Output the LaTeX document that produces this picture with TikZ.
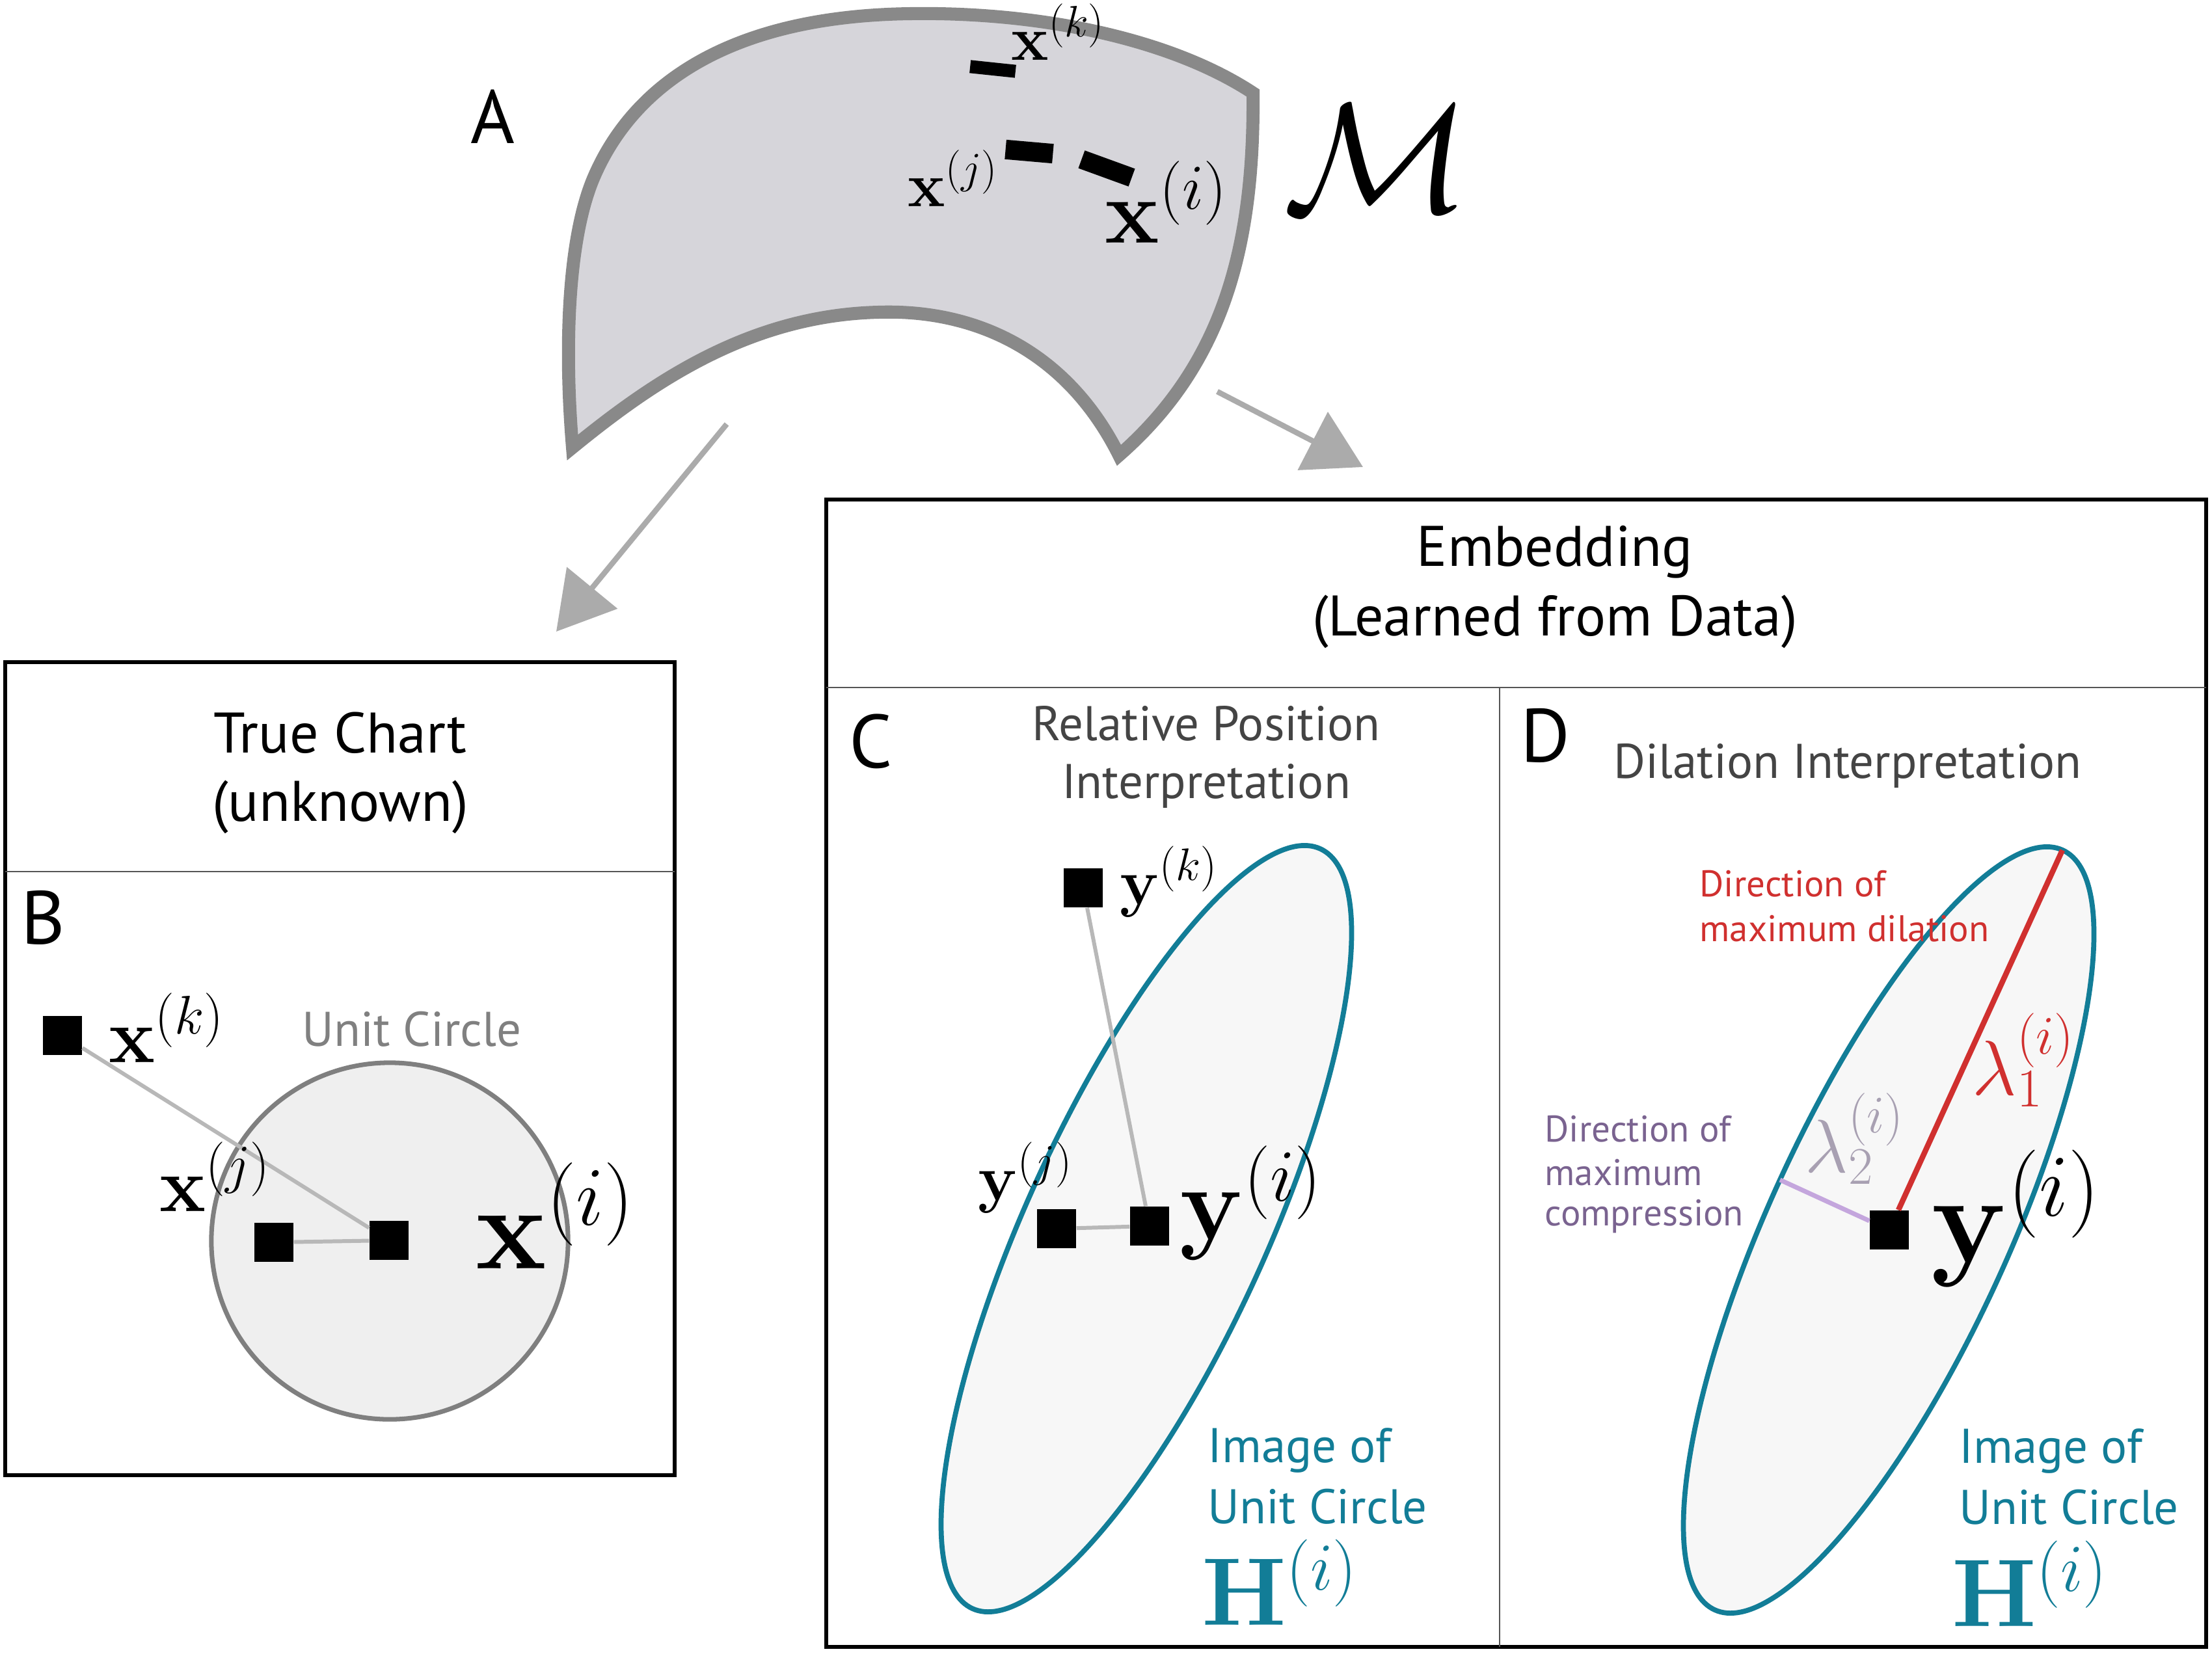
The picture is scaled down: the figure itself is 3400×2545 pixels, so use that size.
\documentclass[tikz,border=0pt]{standalone}
\usepackage{fix-cm}
\usepackage[no-math]{fontspec}
\setmainfont{PT Sans}
\usetikzlibrary{arrows.meta}
\definecolor{mfill}{HTML}{D6D5DA}
\definecolor{mline}{HTML}{898989}
\definecolor{arrowgray}{HTML}{ABABAB}
\definecolor{sepgray}{HTML}{555555}
\definecolor{circfill}{HTML}{EFEFEF}
\definecolor{circline}{HTML}{7F7F7F}
\definecolor{linkgray}{HTML}{B8B8B8}
\definecolor{tealc}{HTML}{127D97}
\definecolor{ellfill}{HTML}{F7F7F7}
\definecolor{redc}{HTML}{D0302F}
\definecolor{lavc}{HTML}{C4A6DD}
\definecolor{purptext}{HTML}{7A6390}
\definecolor{lamgray}{HTML}{A8A0B2}
\definecolor{titlegray}{HTML}{444444}
\definecolor{ucgray}{HTML}{808080}
\tikzset{
  lbl/.style={inner sep=0pt, anchor=base west},
  ctext/.style={inner sep=0pt, anchor=base},
  sq/.style={fill=black, draw=none, minimum size=0.6cm, inner sep=0pt},
  ptmark/.style={fill=black, draw=none, inner sep=0pt},
  outerbox/.style={draw=black, line width=1.5pt},
  sepline/.style={draw=sepgray, line width=0.7pt},
  garrow/.style={draw=arrowgray, line width=2.4pt, -{Triangle[length=0.87cm, width=0.99cm]}},
  manifold/.style={draw=mline, fill=mfill, line width=5.7pt, line join=miter},
  letter/.style={lbl, font=\fontsize{33}{40}\selectfont},
  ttl/.style={ctext, font=\fontsize{25}{30}\selectfont},
  sttl/.style={ctext, text=titlegray, font=\fontsize{21.3}{26}\selectfont},
  imgtxt/.style={lbl, text=tealc, font=\fontsize{21.3}{26}\selectfont},
  dirtxt/.style={lbl, font=\fontsize{16.2}{20}\selectfont},
  link/.style={draw=linkgray, line width=1.7pt},
  ucirc/.style={draw=circline, fill=circfill, line width=2pt},
  ell/.style={draw=tealc, fill=ellfill, line width=2.2pt},
  mathA/.style={lbl, font=\fontsize{27.5}{33}\selectfont},
  mathB/.style={lbl, font=\fontsize{34}{40}\selectfont},
  mathC/.style={lbl, font=\fontsize{28.5}{34}\selectfont},
}
\begin{document}
\begin{tikzpicture}[x=0.01cm, y=-0.01cm]
\useasboundingbox (0,0) rectangle (3400,2545);

% ---------------- Panel A: manifold ----------------
\node[letter] (labA) at (723,220) {A};
\draw[manifold] (880,688) .. controls (866,520) and (875,360) .. (913,272)
  .. controls (960,163) and (1080,25) .. (1400,21)
  .. controls (1600,18) and (1800,60) .. (1926,143)
  .. controls (1928,380) and (1880,560) .. (1720,700)
  .. controls (1640,540) and (1500,475) .. (1350,480)
  .. controls (1150,485) and (1000,590) .. (880,688) -- cycle;
\node[ptmark, minimum width=0.70cm, minimum height=0.20cm, rotate=-6] (mk) at (1526,106) {};
\node[ptmark, minimum width=0.73cm, minimum height=0.30cm, rotate=-5] (mj) at (1582,233) {};
\node[ptmark, minimum width=0.82cm, minimum height=0.29cm, rotate=-20] (mi) at (1701,259) {};
\node[mathA] (lxk) at (1554,92) {$\mathbf{x}^{(k)}$};
\node[mathA] (lxj) at (1395,317) {$\mathbf{x}^{(j)}$};
\node[lbl, font=\fontsize{40}{48}\selectfont] (lxi) at (1698,373) {$\mathbf{x}^{(i)}$};
\node[lbl, font=\fontsize{68}{80}\selectfont] (lM) at (1972,325) {$\mathcal{M}$};

% arrows
\coordinate (a1s) at (1117,652);
\coordinate (a1e) at (855,971);
\coordinate (a2s) at (1871,602);
\coordinate (a2e) at (2095,718);
\draw[garrow] (a1s) -- (a1e);
\draw[garrow] (a2s) -- (a2e);

% ---------------- Panel B ----------------
\draw[outerbox] (8,1018) rectangle (1037,2268);
\draw[sepline] (8,1340) -- (1037,1340);
\node[ttl] (tc1) at (523,1157) {True Chart};
\node[ttl] (tc2) at (523,1262) {(unknown)};
\node[letter] (labB) at (32,1451) {B};
\draw[ucirc] (599,1908) circle[radius=2.74cm];
\node[ctext, text=ucgray, font=\fontsize{21.3}{26}\selectfont] (uc) at (633,1608) {Unit Circle};
\node[sq] (bk) at (96,1592) {};
\node[sq] (bj) at (421,1910) {};
\node[sq] (bi) at (598,1907) {};
\draw[link] (bk) -- (bi);
\draw[link] (bj) -- (bi);
\node[mathB] (lbk) at (167,1633) {$\mathbf{x}^{(k)}$};
\node[mathB] (lbj) at (245,1862) {$\mathbf{x}^{(j)}$};
\node[lbl, font=\fontsize{52}{60}\selectfont] (lbi) at (731,1950) {$\mathbf{x}^{(i)}$};

% ---------------- Embedding box ----------------
\draw[outerbox] (1270,768) rectangle (3391,2532);
\draw[sepline] (1270,1057) -- (3391,1057);
\draw[sepline] (2305,1057) -- (2305,2532);
\node[ttl] (emb1) at (2390,870) {Embedding};
\node[ttl] (emb2) at (2390,977) {(Learned from Data)};

% ---------------- Panel C ----------------
\node[letter] (labC) at (1305,1180) {C};
\node[sttl] (rp1) at (1854,1138) {Relative Position};
\node[sttl] (rp2) at (1854,1227) {Interpretation};
\draw[ell] (1762,1889) circle[x radius=6.42cm, y radius=1.84cm, rotate=65.4];
\node[sq] (ck) at (1665,1365) {};
\node[sq] (cj) at (1624,1889) {};
\node[sq] (ci) at (1767,1885) {};
\draw[link] (ck) -- (ci);
\draw[link] (cj) -- (ci);
\node[mathC] (lck) at (1721,1390) {$\mathbf{y}^{(k)}$};
\node[mathC] (lcj) at (1503,1845) {$\mathbf{y}^{(j)}$};
\node[lbl, font=\fontsize{46}{54}\selectfont] (lci) at (1813,1905) {$\mathbf{y}^{(i)}$};
\node[imgtxt] (cim1) at (1856,2248) {Image of};
\node[imgtxt] (cim2) at (1856,2342) {Unit Circle};
\node[lbl, text=tealc, font=\fontsize{42}{50}\selectfont] (cH) at (1847,2498) {$\mathbf{H}^{(i)}$};

% ---------------- Panel D ----------------
\node[letter] (labD) at (2337,1171) {D};
\node[sttl] (dti) at (2840,1196) {Dilation Interpretation};
\draw[ell] (2903,1891) circle[x radius=6.42cm, y radius=1.84cm, rotate=65.4];
\coordinate (dtip) at (3170,1307);
\coordinate (ctip) at (2736,1814);
\node[sq] (dsq) at (2904,1891) {};
\draw[draw=redc, line width=2.4pt] (dsq) -- (dtip);
\draw[draw=lavc, line width=2pt] (dsq) -- (ctip);
\node[dirtxt, text=redc] (rd1) at (2612,1378) {Direction of};
\node[dirtxt, text=redc] (rd2) at (2612,1447) {maximum dilation};
\node[dirtxt, text=purptext] (pd1) at (2374,1755) {Direction of};
\node[dirtxt, text=purptext] (pd2) at (2374,1822) {maximum};
\node[dirtxt, text=purptext] (pd3) at (2374,1884) {compression};
\node[lbl, text=redc, font=\fontsize{34}{40}\selectfont] (lam1) at (3031,1683) {$\lambda^{(i)}_1$};
\node[lbl, text=lamgray, font=\fontsize{33}{40}\selectfont] (lam2) at (2774,1802) {$\lambda^{(i)}_2$};
\node[lbl, font=\fontsize{55}{64}\selectfont] (ldi) at (2968,1940) {$\mathbf{y}^{(i)}$};
\node[imgtxt] (dim1) at (3011,2249) {Image of};
\node[imgtxt] (dim2) at (3011,2343) {Unit Circle};
\node[lbl, text=tealc, font=\fontsize{42}{50}\selectfont] (dH) at (3000,2500) {$\mathbf{H}^{(i)}$};
\end{tikzpicture}
\end{document}
